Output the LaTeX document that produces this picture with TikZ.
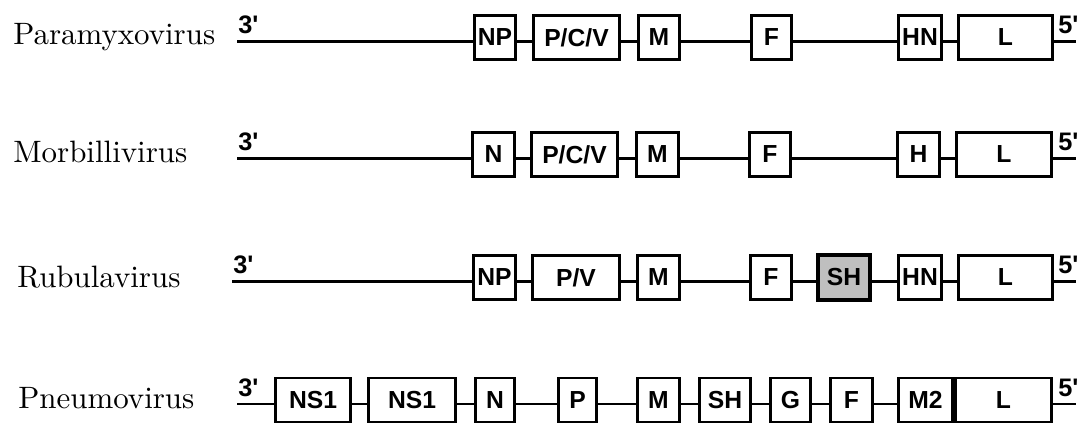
\documentclass[tikz,border=0pt]{standalone}
\usepackage{fontspec}
\newfontfamily\genefont{Liberation Sans}
\newfontfamily\virusfont{lmroman10-regular.otf}
\begin{document}
\begin{tikzpicture}[x=0.75pt, y=-0.75pt, every path/.style={line width=2pt},
		every node/.style={inner sep=0pt},
		gene/.style={draw, line width=2pt, minimum width=(#1-2.7)*0.75pt, minimum height=33.2pt,
			font=\genefont\bfseries\fontsize{18.5}{20}\selectfont},
		shaded/.style={fill=black!25, line width=3pt},
		virus/.style={anchor=base west, font=\virusfont\fontsize{23.2}{28}\selectfont},
		prime/.style={anchor=base west, font=\genefont\bfseries\fontsize{19}{20}\selectfont}]
		\useasboundingbox (0,0) rectangle (1079,424);
		% Paramyxovirus
		\node[virus] (pa) at (12,45) {Paramyxovirus};
		\node[prime] (pa-3) at (237,34) {3\textquotesingle};
		\coordinate (pa-a) at (237,41.5);
		\node[gene=44] (pa-np) at (495,37.5) {NP};
		\node[gene=89] (pa-pcv) at (576.5,37.5) {P/C/V};
		\node[gene=44] (pa-m) at (659,37.5) {M};
		\node[gene=43] (pa-f) at (771.5,37.5) {F};
		\node[gene=46] (pa-hn) at (920,37.5) {HN};
		\node[gene=97] (pa-l) at (1005.5,37.5) {L};
		\node[prime] (pa-5) at (1057,34) {5\textquotesingle};
		\coordinate (pa-b) at (1076,41.5);
		\path (pa-a) edge ([yshift=-3pt]pa-np.west);
		\path ([yshift=-3pt]pa-np.east) edge ([yshift=-3pt]pa-pcv.west);
		\path ([yshift=-3pt]pa-pcv.east) edge ([yshift=-3pt]pa-m.west);
		\path ([yshift=-3pt]pa-m.east) edge ([yshift=-3pt]pa-f.west);
		\path ([yshift=-3pt]pa-f.east) edge ([yshift=-3pt]pa-hn.west);
		\path ([yshift=-3pt]pa-hn.east) edge ([yshift=-3pt]pa-l.west);
		\path ([yshift=-3pt]pa-l.east) edge (pa-b);
		% Morbillivirus
		\node[virus] (mo) at (12,163) {Morbillivirus};
		\node[prime] (mo-3) at (237,151) {3\textquotesingle};
		\coordinate (mo-a) at (237,158.5);
		\node[gene=45] (mo-n) at (493.5,154.5) {N};
		\node[gene=89] (mo-pcv) at (574.5,154.5) {P/C/V};
		\node[gene=45] (mo-m) at (657.5,154.5) {M};
		\node[gene=44] (mo-f) at (770,154.5) {F};
		\node[gene=45] (mo-h) at (918.5,154.5) {H};
		\node[gene=98] (mo-l) at (1004,154.5) {L};
		\node[prime] (mo-5) at (1057,151) {5\textquotesingle};
		\coordinate (mo-b) at (1076,158.5);
		\path (mo-a) edge ([yshift=-3pt]mo-n.west);
		\path ([yshift=-3pt]mo-n.east) edge ([yshift=-3pt]mo-pcv.west);
		\path ([yshift=-3pt]mo-pcv.east) edge ([yshift=-3pt]mo-m.west);
		\path ([yshift=-3pt]mo-m.east) edge ([yshift=-3pt]mo-f.west);
		\path ([yshift=-3pt]mo-f.east) edge ([yshift=-3pt]mo-h.west);
		\path ([yshift=-3pt]mo-h.east) edge ([yshift=-3pt]mo-l.west);
		\path ([yshift=-3pt]mo-l.east) edge (mo-b);
		% Rubulavirus
		\node[virus] (ru) at (16,287) {Rubulavirus};
		\node[prime] (ru-3) at (232,274) {3\textquotesingle};
		\coordinate (ru-a) at (232,281.5);
		\node[gene=45] (ru-np) at (494.5,277.5) {NP};
		\node[gene=90] (ru-pv) at (576,277.5) {P/V};
		\node[gene=45] (ru-m) at (658.5,277.5) {M};
		\node[gene=44] (ru-f) at (771,277.5) {F};
		\node[gene=54, shaded] (ru-sh) at (844,277.5) {SH};
		\node[gene=46] (ru-hn) at (920,277.5) {HN};
		\node[gene=97] (ru-l) at (1005.5,277.5) {L};
		\node[prime] (ru-5) at (1057,274) {5\textquotesingle};
		\coordinate (ru-b) at (1076,281.5);
		\path (ru-a) edge ([yshift=-3pt]ru-np.west);
		\path ([yshift=-3pt]ru-np.east) edge ([yshift=-3pt]ru-pv.west);
		\path ([yshift=-3pt]ru-pv.east) edge ([yshift=-3pt]ru-m.west);
		\path ([yshift=-3pt]ru-m.east) edge ([yshift=-3pt]ru-f.west);
		\path ([yshift=-3pt]ru-f.east) edge ([yshift=-3pt]ru-sh.west);
		\path ([yshift=-3pt]ru-sh.east) edge ([yshift=-3pt]ru-hn.west);
		\path ([yshift=-3pt]ru-hn.east) edge ([yshift=-3pt]ru-l.west);
		\path ([yshift=-3pt]ru-l.east) edge (ru-b);
		% Pneumovirus
		\node[virus] (pn) at (17,408) {Pneumovirus};
		\node[prime] (pn-3) at (237,396.5) {3\textquotesingle};
		\coordinate (pn-a) at (237,404);
		\node[gene=78] (pn-ns1a) at (313,400) {NS1};
		\node[gene=90] (pn-ns1b) at (412,400) {NS1};
		\node[gene=42] (pn-n) at (495,400) {N};
		\node[gene=41] (pn-p) at (577.5,400) {P};
		\node[gene=45] (pn-m) at (658.5,400) {M};
		\node[gene=54] (pn-sh) at (725,400) {SH};
		\node[gene=43] (pn-g) at (790.5,400) {G};
		\node[gene=45] (pn-f) at (851.5,400) {F};
		\node[gene=57] (pn-m2) at (925.5,400) {M2};
		\node[gene=99] (pn-l) at (1003.5,400) {L};
		\node[prime] (pn-5) at (1057,396.5) {5\textquotesingle};
		\coordinate (pn-b) at (1076,404);
		\path (pn-a) edge ([yshift=-3pt]pn-ns1a.west);
		\path ([yshift=-3pt]pn-ns1a.east) edge ([yshift=-3pt]pn-ns1b.west);
		\path ([yshift=-3pt]pn-ns1b.east) edge ([yshift=-3pt]pn-n.west);
		\path ([yshift=-3pt]pn-n.east) edge ([yshift=-3pt]pn-p.west);
		\path ([yshift=-3pt]pn-p.east) edge ([yshift=-3pt]pn-m.west);
		\path ([yshift=-3pt]pn-m.east) edge ([yshift=-3pt]pn-sh.west);
		\path ([yshift=-3pt]pn-sh.east) edge ([yshift=-3pt]pn-g.west);
		\path ([yshift=-3pt]pn-g.east) edge ([yshift=-3pt]pn-f.west);
		\path ([yshift=-3pt]pn-f.east) edge ([yshift=-3pt]pn-m2.west);
		\path ([yshift=-3pt]pn-l.east) edge (pn-b);
	\end{tikzpicture}
\end{document}
